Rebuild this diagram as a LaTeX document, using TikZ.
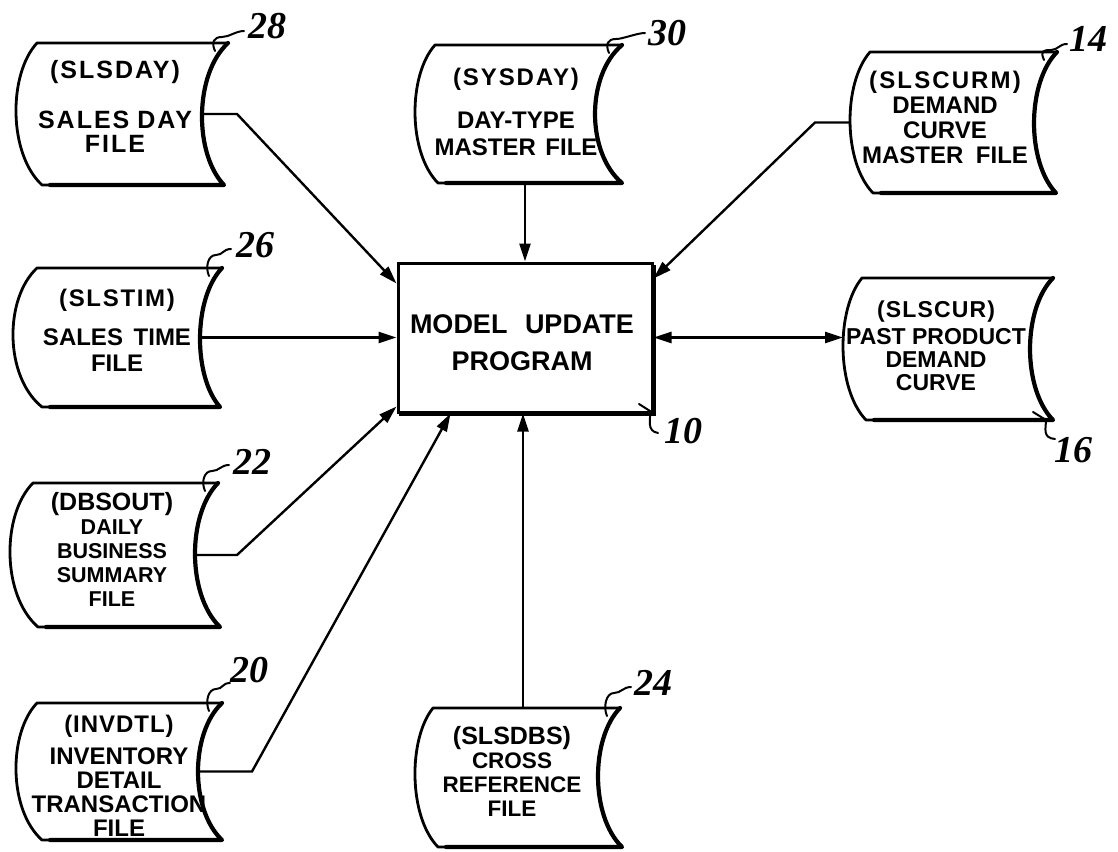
\documentclass[tikz,border=0pt]{standalone}
\usepackage{fontspec}
\setmainfont{Liberation Sans}
\newfontfamily\numfont{Liberation Serif}
\usetikzlibrary{arrows.meta,calc}
\newcommand{\fsz}[2]{\bfseries\fontsize{#1}{#2}\selectfont}
\newcommand{\wide}[2]{{\addfontfeature{LetterSpace=#1}#2}}
\tikzset{
  filebox/.style={line width=2.8pt, line join=round},
  fileedge/.style={line width=4.2pt, line cap=round, line join=round},
  conn/.style={line width=2.4pt},
  arr/.style={conn,-{Triangle[length=18pt,width=11pt]}},
  biarr/.style={conn,{Triangle[length=18pt,width=11pt]}-{Triangle[length=18pt,width=11pt]}},
  leadln/.style={line width=2pt, line cap=round},
  reftxt/.style={font=\numfont\bfseries\itshape\fontsize{38}{38}\selectfont, inner sep=0pt},
  ftext/.style={align=center, inner sep=0pt},
  progbox/.style={draw, line width=3pt, minimum width=254pt, minimum height=149pt, inner sep=0pt},
}
% name, xTL, xTR, yT, xBL, xBR, yB, bulge-left x, bulge-right x
\newcommand{\sfile}[9]{%
  \pgfmathsetmacro\fbL{(#8-0.125*(#2+#5))/0.75}%
  \pgfmathsetmacro\fbR{(#9-0.125*(#3+#6))/0.75}%
  \pgfmathsetmacro\fya{#4+(#7-#4)*0.22}%
  \pgfmathsetmacro\fyb{#4+(#7-#4)*0.78}%
  \pgfmathsetmacro\fym{(#4+#7)/2}%
  \draw[filebox] (#2,#4) -- (#3,#4) .. controls (\fbR,\fya) and (\fbR,\fyb) .. (#6,#7) -- (#5,#7) .. controls (\fbL,\fyb) and (\fbL,\fya) .. cycle;
  \draw[fileedge] (#3,#4) .. controls (\fbR,\fya) and (\fbR,\fyb) .. (#6,#7) -- (#5+8,#7);
  \coordinate (#1-l) at (#8,\fym);
  \coordinate (#1-r) at (#9,\fym);
}
% leader: top-right corner X,Y ; end Lx,Ly
\newcommand{\lead}[4]{%
  \draw[leadln] (#1-13,#2+8) .. controls (#1-17,#2-1) and (#1-14,#4+6) .. (#1-6,#4+6)
     .. controls (#1+1,#4+6) and (#3-8,#4) .. (#3,#4);
}
\begin{document}
\begin{tikzpicture}[x=1pt,y=-1pt]
\useasboundingbox (0,0) rectangle (1118,851);

% ---- stored-data shapes
\sfile{slsday}{37}{228}{43}{42}{224}{185}{16}{202}
\sfile{sysday}{435}{622}{45}{438}{622}{183}{415}{595}
\sfile{slscurm}{870}{1057}{52}{873}{1056}{193}{850}{1034}
\sfile{slstim}{37}{222}{268}{42}{220}{407}{13}{200}
\sfile{slscur}{862}{1053}{278}{866}{1053}{420}{843}{1030}
\sfile{dbsout}{33}{218}{483}{38}{220}{627}{10}{195}
\sfile{invdtl}{37}{222}{703}{42}{222}{840}{16}{198}
\sfile{slsdbs}{433}{620}{708}{438}{622}{847}{415}{598}
\coordinate (sysday-b) at (525,183);
\coordinate (slsdbs-t) at (523,708);

% ---- texts in shapes
\node[ftext, font=\fsz{25}{24}] (slsday) at (115,106) {\wide{8}{(SLSDAY)}\\[26pt]\wide{8}{SALES}\hspace{8pt}\wide{8}{DAY}\\\wide{8}{FILE}};
\node[ftext, font=\fsz{24}{27}] (sysday) at (516,112) {\wide{8}{(SYSDAY)}\\[16pt]DAY-TYPE\\MASTER\hspace{3pt} FILE};
\node[ftext, font=\fsz{24}{25}] (slscurm) at (945,117) {\wide{9}{(SLS\hspace{2pt}CURM)}\\DEMAND\\CURVE\\MASTER\hspace{6pt} FILE};
\node[ftext, font=\fsz{24}{26}] (slstim) at (117,330) {\wide{7}{(SLSTIM)}\\[13pt]SALES\hspace{4pt} TIME\\FILE};
\node[ftext, font=\fsz{23}{23}] (slscur) at (936,346) {\wide{5}{(SLSCUR)}\\[4pt]PAST PRODUCT\\DEMAND\\CURVE};
\node[ftext, font=\fsz{21.5}{24}] (dbsout) at (112,549) {{\fontsize{25}{24}\selectfont (DBSOUT)}\\DAILY\\BUSINESS\\SUMMARY\\FILE};
\node[ftext, font=\fsz{24}{24}] (invdtl) at (119,776) {\wide{4}{(INVDTL)}\\[8pt]INVENTORY\\DETAIL\\TRANSACTION\\FILE};
\node[ftext, font=\fsz{22.5}{24}] (slsdbs) at (512,771) {{\fontsize{25}{24}\selectfont (SLSDBS)}\\CROSS\\REFERENCE\\FILE};

% ---- program box
\node[progbox] (model) at (525,337.5) {};
\draw[line width=5pt] ($(model.south west)+(2,0)$) -- (model.south east) -- ($(model.north east)+(0,3)$);
\node[ftext, font=\fsz{27}{37}] (modeltext) at (522,343) {MODEL\hspace{10pt} UPDATE\\PROGRAM};

% ---- connectors
\draw[arr] (sysday-b) -- (model.north);
\draw[arr] (slsdbs-t) -- (slsdbs-t |- model.south);
\draw[arr] (slstim-r |- model.west) -- (model.west);
\draw[biarr] (model.east) -- (slscur-l |- model.east);
\draw[arr] (slsday-r) -- ++(35,0) -- ($(model.north west)+(0,22)$);
\draw[arr] (dbsout-r) -- ++(42,0) -- ($(model.south west)+(0,-7)$);
\draw[arr] (invdtl-r) -- ++(54,0) -- ($(model.south west)+(54,0)$);
\draw[arr] (slscurm-l) -- ++(-35,0) -- ($(model.north east)+(0,17)$);

% ---- reference numerals and leaders
\lead{228}{43}{244}{31}
\node[reftxt] (n28) at (267,26) {28};
\lead{622}{45}{645}{33}
\node[reftxt] (n30) at (667,33) {30};
\lead{1057}{52}{1067}{44}
\node[reftxt] (n14) at (1088,39) {14};
\lead{222}{268}{231}{249}
\node[reftxt] (n26) at (255,245) {26};
\lead{218}{483}{229}{465}
\node[reftxt] (n22) at (252,462) {22};
\lead{222}{703}{230}{683}
\node[reftxt] (n20) at (249,670) {20};
\lead{620}{708}{631}{687}
\node[reftxt] (n24) at (653,683) {24};
\draw[leadln] (639,404) -- (650,411) .. controls (651,419) and (646,431) .. (658,433);
\node[reftxt] (n10) at (683,431) {10};
\draw[leadln] (1033,412) -- (1046,420) .. controls (1046,428) and (1042,438) .. (1055,439);
\node[reftxt] (n16) at (1073,450) {16};
\end{tikzpicture}
\end{document}
